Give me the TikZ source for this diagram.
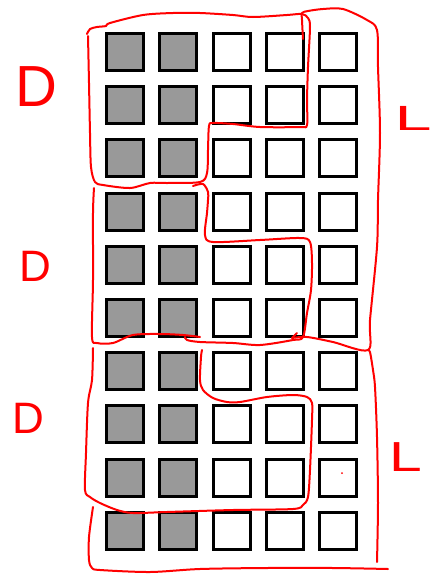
\documentclass[tikz,border=0pt]{standalone}
\usepackage{fontspec}
\newfontfamily\handfont{Liberation Sans}
\definecolor{cellgray}{RGB}{153,153,153}
\definecolor{pen}{RGB}{255,0,0}
\begin{document}
\begin{tikzpicture}[x=1pt,y=-1pt,
  cell/.style={draw=black,line width=3pt,minimum size=37pt,inner sep=0pt,outer sep=0pt,fill=white},
  dark/.style={cell,fill=cellgray},
  redpen/.style={draw=pen,line width=2pt,line cap=round,line join=round},
  letter/.style={text=pen,inner sep=0pt,font=\handfont}]
\useasboundingbox (0,0) rectangle (432,574);
\fill[white] (0,0) rectangle (432,574);
% grid of cells
\foreach \r in {1,...,10}{
  \foreach \c in {1,2}{
    \node[dark] (s\r-\c) at ({125+53.25*(\c-1)},{52+53.2*(\r-1)}) {};
  }
  \foreach \c in {3,4,5}{
    \node[cell] (s\r-\c) at ({125+53.25*(\c-1)},{52+53.2*(\r-1)}) {};
  }
}
% top D region
\draw[redpen] plot[smooth,tension=0.5] coordinates {(87,34) (90,29) (97,27) (106,26) (110,23) (143,15) (173,13) (200,13) (233,15) (253,17) (287,15) (302,14) (308,18) (310,27) (308,67) (307,100) (307,125) (300,127) (260,127) (233,124) (213,123) (209,126) (208,150) (207,173) (200,182) (167,183) (150,183) (130,188) (103,185) (95,182) (91,167) (90,133) (89,83) (88,36)};
% top L region (right part)
\draw[redpen] plot[smooth,tension=0.5] coordinates {(303,39) (302,20) (302,13) (308,11) (323,9) (343,9) (367,20) (377,30) (378,67) (380,133) (378,200) (377,247) (370,320) (368,350) (333,342) (307,337) (292,338)};
\draw[redpen] (292,338) -- (297,333);
% middle D region
\draw[redpen] plot[smooth,tension=0.5] coordinates {(94,188) (93,213) (93,280) (92,337) (97,343) (113,343) (133,335) (160,334) (183,335) (200,337)};
\draw[redpen] plot[smooth,tension=0.5] coordinates {(193,186) (203,184) (208,192) (208,200) (207,213) (205,235) (213,242) (260,240) (300,238) (310,242) (312,263) (311,290) (307,313) (303,337) (293,340) (260,345) (233,343) (200,342) (187,340) (185,337)};
% bottom D region
\draw[redpen] plot[smooth,tension=0.5] coordinates {(93,348) (92,380) (88,403) (86,453) (85,490) (90,497) (100,503) (117,510) (133,513) (167,512) (233,510) (293,509) (303,505) (308,497) (310,470) (312,420) (312,403) (307,397) (293,395) (267,397) (240,402) (227,402) (213,398) (203,390) (200,380) (201,357) (202,350)};
% bottom L region
\draw[redpen] plot[smooth,tension=0.5] coordinates {(93,507) (89,537) (89,560) (92,568) (100,570) (150,572) (200,569) (267,568) (333,568) (388,569)};
\draw[redpen] plot[smooth,tension=0.5] coordinates {(368,350) (370,352) (373,370) (375,387) (377,437) (378,503) (377,562)};
\fill[pen] (342,473) circle (1pt);
% letters
\node[letter,font=\handfont\fontsize{58}{58}\selectfont] (d1) at (36,87) {D};
\node[letter,font=\handfont\fontsize{44}{44}\selectfont] (d2) at (35,266) {D};
\node[letter,font=\handfont\fontsize{44}{44}\selectfont] (d3) at (28,418) {D};
\node[letter,font=\handfont\fontsize{35}{35}\selectfont] (l1) at (413,118) {\scalebox{1.9}[1]{L}};
\node[letter,font=\handfont\fontsize{42}{42}\selectfont] (l2) at (406,457) {\scalebox{1.4}[1]{L}};
\end{tikzpicture}
\end{document}
